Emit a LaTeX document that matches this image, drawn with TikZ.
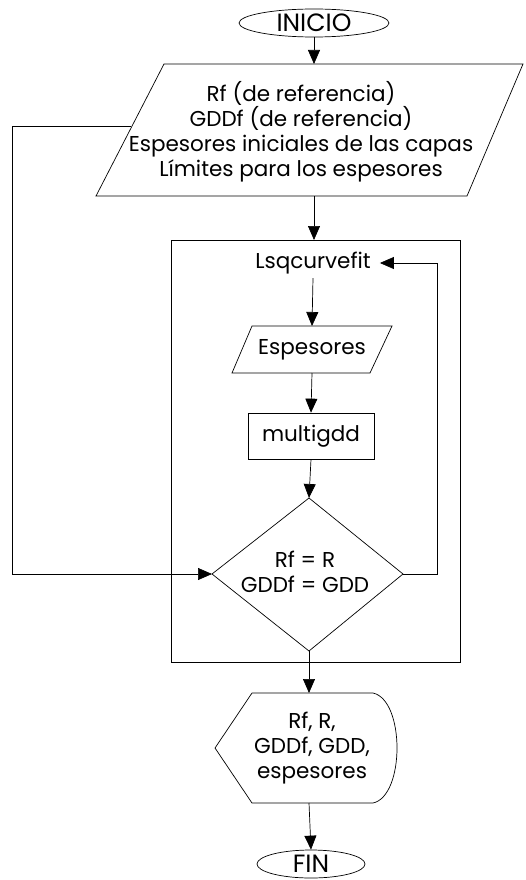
\documentclass[tikz,border=0pt]{standalone}
\usepackage{fontspec}
\setmainfont{Poppins}
\usetikzlibrary{arrows.meta,shapes.geometric}
\begin{document}
\begin{tikzpicture}[x=1pt,y=-1pt,
  shapeline/.style={draw=black, line width=0.7pt},
  conn/.style={draw=black, line width=0.7pt, -{Triangle[length=14pt,width=12pt]}},
  txt/.style={inner sep=0pt, align=center, font=\fontsize{21.5}{25}\selectfont}]
\useasboundingbox (0,0) rectangle (526,880);
% INICIO
\node[shapeline, ellipse, minimum width=150pt, minimum height=28pt, inner sep=0pt, font=\fontsize{25}{25}\selectfont] (ini) at (314,23) {INICIO};
% big input parallelogram
\draw[shapeline] (164,64) -- (523,64) -- (467,196) -- (96,196) -- cycle;
\coordinate (pTop) at (314,64);
\coordinate (pBot) at (314,196);
\coordinate (pLeft) at (131,126);
\node[txt] (ptext) at (301,132) {Rf (de referencia)\\GDDf (de referencia)\\Espesores iniciales de las capas\\Límites para los espesores};
% outer box
\draw[shapeline] (171,240) rectangle (460,662);
\coordinate (boxTop) at (314,240);
% Lsqcurvefit
\node[txt, inner ysep=4pt, inner xsep=9pt] (lsq) at (313,263) {Lsqcurvefit};
% Espesores parallelogram
\draw[shapeline] (252,326) -- (392,326) -- (370,373) -- (232,373) -- cycle;
\coordinate (eTop) at (312,326);
\coordinate (eBot) at (312,373);
\node[txt] (etext) at (312,350) {Espesores};
% multigdd
\node[shapeline, rectangle, minimum width=126pt, minimum height=46pt, inner sep=0pt, font=\fontsize{21.5}{25}\selectfont] (mg) at (311,436) {multigdd};
% diamond
\draw[shapeline] (309,498) -- (403,574) -- (309,651) -- (212,574) -- cycle;
\coordinate (dTop) at (309,498);
\coordinate (dBot) at (309,651);
\coordinate (dLeft) at (212,574);
\coordinate (dRight) at (403,574);
\node[txt] (dtext) at (305,572) {Rf = R\\GDDf = GDD};
% display hexagon
\draw[shapeline] (252,693) -- (373,693) .. controls (405,700) and (405,796) .. (373,803) -- (252,803) -- (215,748) -- cycle;
\coordinate (hTop) at (309,693);
\coordinate (hBot) at (309,803);
\node[txt] (htext) at (312,748) {Rf, R,\\GDDf, GDD,\\espesores};
% FIN
\node[shapeline, ellipse, minimum width=108pt, minimum height=28pt, inner sep=0pt, font=\fontsize{25}{25}\selectfont] (fin) at (311,864) {FIN};
% connectors
\draw[conn] (ini.south) -- (pTop);
\draw[conn] (pBot) -- (boxTop);
\draw[conn] (lsq.south) -- (eTop);
\draw[conn] (eBot) -- (mg.north);
\draw[conn] (mg.south) -- (dTop);
\draw[conn] (dBot) -- (hTop);
\draw[conn] (hBot) -- (fin.north);
\coordinate (loopR) at (437,574);
\draw[conn] (dRight) -- (loopR) |- (lsq.east);
\coordinate (fbA) at (12,126);
\coordinate (fbB) at (12,574);
\draw[conn] (pLeft) -- (fbA) -- (fbB) -- (dLeft);
\end{tikzpicture}
\end{document}
